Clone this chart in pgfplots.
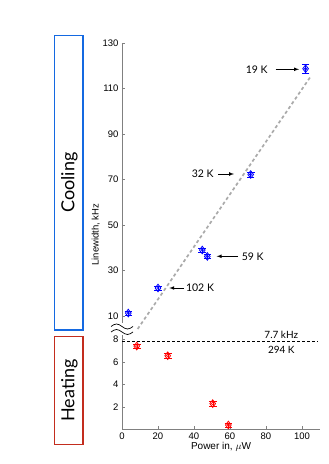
\documentclass[border=0pt]{standalone}
\usepackage{fontspec}
\setmainfont{Liberation Sans}
\newfontfamily\annfont{Lato}
\usepackage{pgfplots}
\pgfplotsset{compat=1.18}
\definecolor{coolblue}{RGB}{20,105,225}
\definecolor{heatred}{RGB}{195,45,30}
\definecolor{fitgray}{RGB}{170,170,170}

\pgfplotsset{
  brokenaxis/.style={
    scale only axis,
    width=198pt,
    xmin=0, xmax=110,
    axis line style={gray},
    tick style={gray, thin},
    tick align=inside,
    major tick length=3pt,
    tick label style={font=\fontsize{9.5}{11}\selectfont},
    /pgf/number format/assume math mode=true,
    clip=false,
  },
}

\begin{document}
\begin{tikzpicture}[x=1pt,y=1pt]
\useasboundingbox (0,0) rectangle (329,464);

% lower part (heating)
\begin{axis}[brokenaxis,
  at={(122pt,34.7pt)}, anchor=south west,
  height=100.3pt,
  ymin=0, ymax=8.916,
  axis x line*=bottom, axis y line*=left,
  xtick={0,20,40,60,80,100},
  ytick={2,4,6,8},
  xlabel={Power in, $\mu$W},
  xlabel style={font=\fontsize{10}{12}\selectfont, yshift=4pt},
]
\addplot[black, densely dashed, line width=0.9pt] coordinates {(0,7.79) (109,7.79)};
\addplot[only marks, red, mark=diamond, mark size=3.8pt, line width=0.8pt,
  error bars/.cd, y dir=both, y explicit]
  coordinates {(8.2,7.4) +- (0,0.2) (25.4,6.54) +- (0,0.2) (50.4,2.28) +- (0,0.2) (59.1,0.38) +- (0,0.2)};
\addplot[only marks, red, mark=o, mark size=1.3pt, line width=0.6pt]
  coordinates {(8.2,7.4) (25.4,6.54) (50.4,2.28) (59.1,0.38)};
\node[font=\annfont\fontsize{10}{12}\selectfont] at (axis cs:88.5,8.4) {7.7 kHz};
\node[font=\annfont\fontsize{10}{12}\selectfont] at (axis cs:88.5,7.1) {294 K};
\end{axis}

% upper part (cooling)
\begin{axis}[brokenaxis,
  at={(122pt,135pt)}, anchor=south west,
  height=286pt,
  ymin=4.29, ymax=130,
  axis x line=none, axis y line*=left,
  ytick={10,30,50,70,90,110,130},
  ylabel={Linewidth, kHz},
  ylabel style={font=\fontsize{9.5}{11}\selectfont, at={(ticklabel cs:0.33)}, anchor=near ticklabel, yshift=-4pt},
]
\addplot[fitgray, line width=1.7pt, dash pattern=on 3.2pt off 2.6pt] coordinates {(8.7,4.3) (104.4,114.8)};
\addplot[only marks, blue, mark=diamond, mark size=3.8pt, line width=0.8pt,
  error bars/.cd, y dir=both, y explicit]
  coordinates {(3.5,11.3) +- (0,0.8) (20,22.3) +- (0,0.8) (44.6,39.0) +- (0,0.8) (47.4,36.2) +- (0,0.8) (71.5,72.2) +- (0,1.0) (102,118.7) +- (0,2.1)};
\addplot[only marks, blue, mark=o, mark size=1.3pt, line width=0.6pt]
  coordinates {(3.5,11.3) (20,22.3) (44.6,39.0) (47.4,36.2) (71.5,72.2) (102,118.7)};
\end{axis}

% axis break
\fill[white] (111,129) rectangle (134,141);
\draw[black, line width=0.7pt] (111,137.5) sin (116.5,140) cos (122,137.5) sin (127.5,135) cos (133,137.5);
\draw[black, line width=0.7pt] (111,132) sin (116.5,134.5) cos (122,132) sin (127.5,129.5) cos (133,132);

% annotations (y measured from the top)
\begin{scope}[font=\annfont\fontsize{10.5}{12}\selectfont]
\node at (256.7,464-69.3) {19 K};
\draw[-latex, black, line width=0.7pt] (275.7,464-69.3) -- (299,464-69.3);
\node at (202.7,464-174) {32 K};
\draw[-latex, black, line width=0.7pt] (218,464-174) -- (234,464-174);
\node at (252.7,464-256.3) {59 K};
\draw[-latex, black, line width=0.7pt] (238,464-256.3) -- (216.7,464-256.3);
\node at (200,464-288) {102 K};
\draw[-latex, black, line width=0.7pt] (184,464-288) -- (169.3,464-288);
\end{scope}

% cooling / heating boxes
\draw[coolblue, line width=1.1pt] (54.5,464-35.5) rectangle (83,464-330);
\node[rotate=90, font=\annfont\fontsize{18}{20}\selectfont] at (69.5,464-182.5) {Cooling};
\draw[heatred, line width=1.1pt] (54.5,464-336.5) rectangle (83,464-444.5);
\node[rotate=90, font=\annfont\fontsize{18}{20}\selectfont] at (69.5,464-390.5) {Heating};
\end{tikzpicture}
\end{document}
